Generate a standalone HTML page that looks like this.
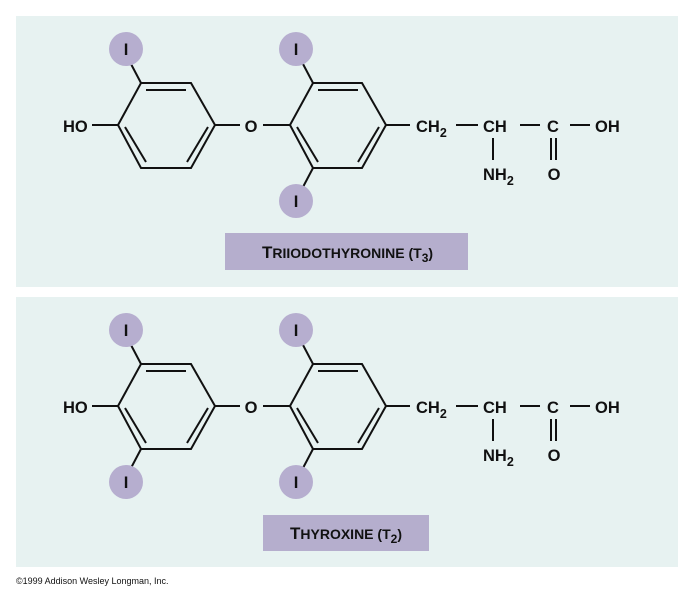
<!DOCTYPE html>
<html><head><meta charset="utf-8"><style>
html,body{margin:0;padding:0;background:#fff;}
svg{display:block;}
text{font-family:"Liberation Sans",Arial,sans-serif;font-weight:bold;fill:#111;}
</style></head><body>
<svg width="697" height="600" viewBox="0 0 697 600" xmlns="http://www.w3.org/2000/svg">
<defs>
<g id="core">
  <g stroke="#111" stroke-width="2" fill="none">
    <polygon points="141,83 191,83 215,125 191,168 141,168 118,125"/>
    <line x1="146" y1="90" x2="186" y2="90"/>
    <line x1="125" y1="127" x2="146" y2="162"/>
    <line x1="208" y1="127" x2="187" y2="162"/>
    <line x1="92" y1="125" x2="118" y2="125"/>
    <line x1="215" y1="125" x2="240" y2="125"/>
    <line x1="263" y1="125" x2="290" y2="125"/>
    <polygon points="313,83 362,83 386,125 362,168 313,168 290,125"/>
    <line x1="318" y1="90" x2="358" y2="90"/>
    <line x1="297" y1="127" x2="318" y2="162"/>
    <line x1="379" y1="127" x2="358" y2="162"/>
    <line x1="386" y1="125" x2="410" y2="125"/>
    <line x1="131" y1="64" x2="141" y2="83"/>
    <line x1="303" y1="64" x2="313" y2="83"/>
    <line x1="303" y1="187" x2="313" y2="168"/>
    <line x1="456" y1="125" x2="478" y2="125"/>
    <line x1="520" y1="125" x2="540" y2="125"/>
    <line x1="570" y1="125" x2="590" y2="125"/>
    <line x1="493" y1="138" x2="493" y2="160"/>
    <line x1="551" y1="138" x2="551" y2="160"/>
    <line x1="556" y1="138" x2="556" y2="160"/>
  </g>
  <circle cx="126" cy="49" r="17" fill="#b6aecf"/>
  <circle cx="296" cy="49" r="17" fill="#b6aecf"/>
  <circle cx="296" cy="201" r="17" fill="#b6aecf"/>
  <g font-size="16.5">
    <text x="126" y="55" text-anchor="middle">I</text>
    <text x="296" y="55" text-anchor="middle">I</text>
    <text x="296" y="207" text-anchor="middle">I</text>
    <text x="63" y="132">HO</text>
    <text x="251" y="132" text-anchor="middle">O</text>
    <text x="416" y="132">CH<tspan font-size="12.5" dy="5">2</tspan></text>
    <text x="483" y="132">CH</text>
    <text x="553" y="132" text-anchor="middle">C</text>
    <text x="595" y="132">OH</text>
    <text x="483" y="180">NH<tspan font-size="12.5" dy="5">2</tspan></text>
    <text x="554" y="180" text-anchor="middle">O</text>
  </g>
</g>
</defs>
<rect x="16" y="16" width="662" height="271" fill="#e7f2f1"/>
<rect x="16" y="297" width="662" height="270" fill="#e7f2f1"/>
<use href="#core"/>
<rect x="225" y="233" width="243" height="37" fill="#b5aecd"/>
<text x="262" y="258" font-size="17">T<tspan font-size="14">RIIODOTHYRONINE (T</tspan><tspan font-size="12" dy="4">3</tspan><tspan font-size="14" dy="-4">)</tspan></text>
<g transform="translate(0,281)">
  <use href="#core"/>
  <line x1="131" y1="187" x2="141" y2="168" stroke="#111" stroke-width="2"/>
  <circle cx="126" cy="201" r="17" fill="#b6aecf"/>
  <text x="126" y="207" text-anchor="middle" font-size="16.5">I</text>
</g>
<rect x="263" y="515" width="166" height="36" fill="#b5aecd"/>
<text x="290" y="539" font-size="17">T<tspan font-size="14">HYROXINE (T</tspan><tspan font-size="12" dy="4">2</tspan><tspan font-size="14" dy="-4">)</tspan></text>
<text x="16" y="584" font-size="9" style="font-weight:normal">©1999 Addison Wesley Longman, Inc.</text>
</svg>
</body></html>
